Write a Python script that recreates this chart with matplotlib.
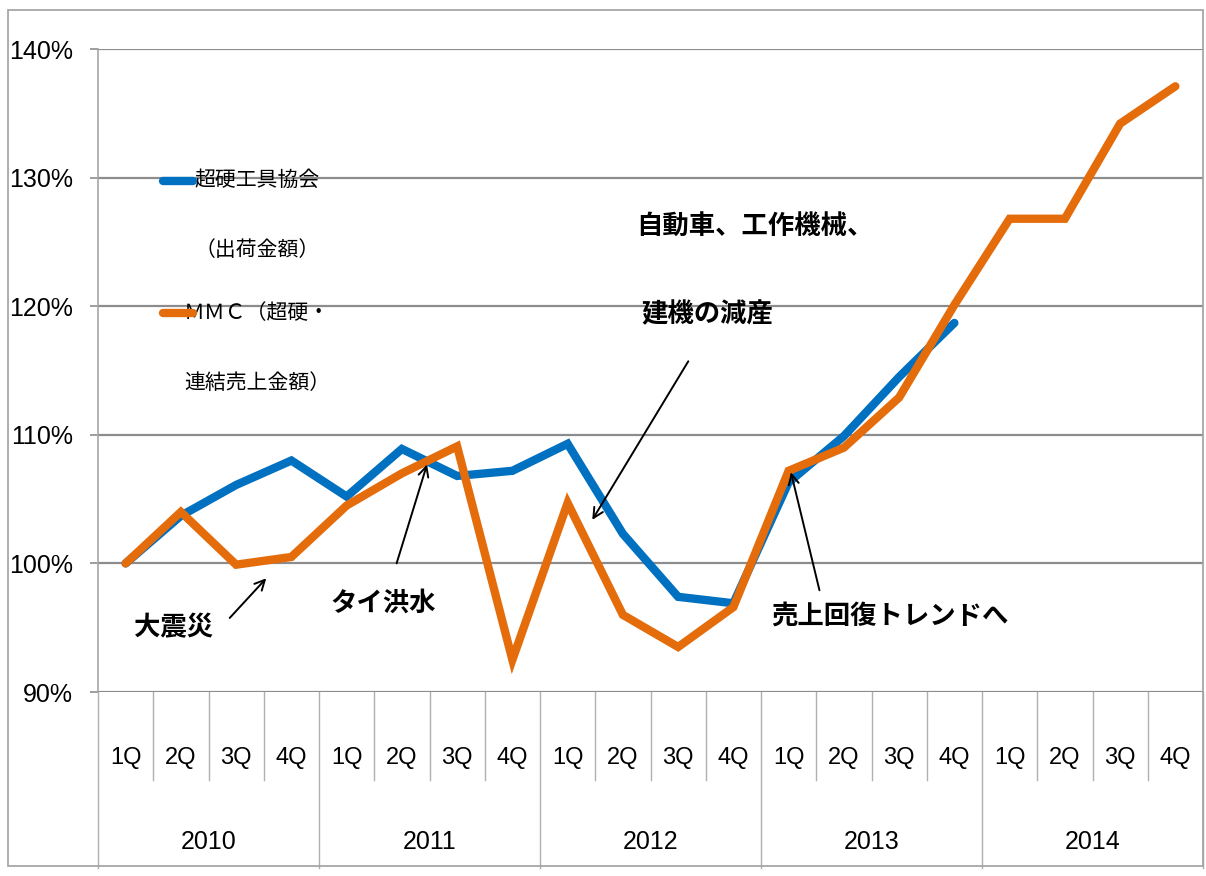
import matplotlib

matplotlib.use("Agg")

import matplotlib.pyplot as plt
import matplotlib.transforms as mtransforms
from matplotlib.patches import Rectangle

JP = ["Noto Sans CJK JP", "DejaVu Sans"]
LATIN = ["Liberation Sans Narrow", "Liberation Sans", "DejaVu Sans"]

years = ["2010", "2011", "2012", "2013", "2014"]
quarters = ["1Q", "2Q", "3Q", "4Q"]

# 超硬工具協会（出荷金額）, 2010 1Q = 100%
kyokai = [100.0, 103.7, 106.1, 108.0, 105.2, 108.9, 106.8, 107.2,
          109.3, 102.3, 97.4, 96.9, 106.3, 109.9, 114.5, 118.7]
# MMC（超硬・連結売上金額）
mmc = [100.0, 104.0, 99.9, 100.5, 104.5, 107.0, 109.1, 92.5,
       104.7, 96.0, 93.5, 96.6, 107.2, 109.0, 112.9, 120.1,
       126.8, 126.8, 134.2, 137.1]

series_labels = ["超硬工具協会\n（出荷金額）", "ＭＭＣ（超硬・\n連結売上金額）"]
series_colors = ["#0070C0", "#E46C0A"]

yticks = [90, 100, 110, 120, 130, 140]

notes = ["大震災", "タイ洪水", "自動車、工作機械、\n建機の減産", "売上回復トレンドへ"]

fig = plt.figure(figsize=(12.06, 8.76), dpi=100)
ax = fig.add_axes([98 / 1206, 1 - 692 / 876, 1105 / 1206, 643 / 876])

n = len(years) * len(quarters)
ax.set_xlim(-0.5, n - 0.5)
ax.set_ylim(90, 140)

for vals, col in zip([kyokai, mmc], series_colors):
    ax.plot(range(len(vals)), vals, color=col, lw=6, solid_capstyle="round",
            solid_joinstyle="miter", zorder=3)

# y axis
ax.set_yticks(yticks)
ax.set_yticklabels([f"{v}%" for v in yticks], family=LATIN, fontsize=18)
ax.tick_params(axis="y", length=6, width=1.2, color="#8c8c8c", pad=12)
ax.set_xticks([])
ax.grid(axis="y", color="#8c8c8c", lw=1.6)
ax.set_axisbelow(True)
for s in ["top", "right", "bottom"]:
    ax.spines[s].set_visible(False)
ax.spines["left"].set_color("#a6a6a6")
ax.spines["left"].set_linewidth(1.2)

# two level category axis
trans = mtransforms.blended_transform_factory(ax.transData, ax.transAxes)
q_bottom = (692 - 780) / 643
y_bottom = (692 - 868) / 643
for i in range(n + 1):
    x = i - 0.5
    low = y_bottom if i % 4 == 0 else q_bottom
    ax.plot([x, x], [0, low], color="#b0b0b0", lw=1, transform=trans,
            clip_on=False)
for i in range(n):
    ax.text(i, (692 - 758) / 643, quarters[i % 4], transform=trans,
            ha="center", va="center", family=LATIN, fontsize=17)
for j, yr in enumerate(years):
    ax.text(j * 4 + 1.5, (692 - 842) / 643, yr, transform=trans,
            ha="center", va="center", family=LATIN, fontsize=18)

# legend drawn in place
leg_y = [0.795, 0.589]
for lab, col, yy in zip(series_labels, series_colors, leg_y):
    ax.plot([0.0588, 0.086], [yy, yy], color=col, lw=6,
            solid_capstyle="round", transform=ax.transAxes, zorder=4)
    lines = lab.split("\n")
    ax.text(0.144, yy + 0.001, lines[0], transform=ax.transAxes,
            ha="center", va="center", family=JP, fontsize=15)
    ax.text(0.144, yy - 0.108, lines[1], transform=ax.transAxes,
            ha="center", va="center", family=JP, fontsize=15)

# annotations
arrow = dict(arrowstyle="->", color="black", lw=1.4, mutation_scale=18)
note_kw = dict(family=JP, fontsize=19, fontweight="bold", ha="center",
               va="center")
ax.annotate("", xy=(2.58, 99.0), xytext=(1.85, 95.6), arrowprops=arrow)
ax.text(0.86, 95.0, notes[0], **note_kw)
ax.annotate("", xy=(5.47, 107.9), xytext=(4.89, 99.8), arrowprops=arrow)
ax.text(4.66, 96.9, notes[1], **note_kw)
ax.annotate("", xy=(8.42, 103.2), xytext=(10.21, 115.9), arrowprops=arrow)
l1, l2 = notes[2].split("\n")
ax.text(11.39, 126.1, l1, **note_kw)
ax.text(10.52, 119.3, l2, **note_kw)
ax.annotate("", xy=(12.03, 107.3), xytext=(12.57, 97.7), arrowprops=arrow)
ax.text(13.84, 95.9, notes[3], **note_kw)

# chart border
fig.patches.append(Rectangle((8 / 1206, 1 - 866 / 876), 1195 / 1206,
                             856 / 876, transform=fig.transFigure,
                             fill=False, edgecolor="#a0a0a0", lw=1.2))

fig.savefig("out.png", dpi=100)
